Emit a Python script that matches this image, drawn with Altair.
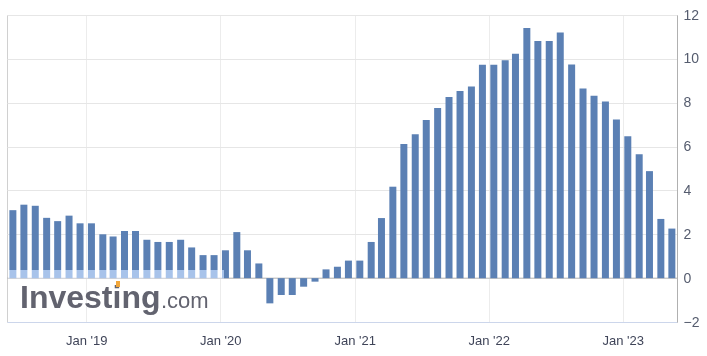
import altair as alt
import pandas as pd

# Monthly values, Jun 2018 .. May 2023
start_year, start_month = 2018, 6
values = [
    3.1, 3.35, 3.3, 2.75, 2.6, 2.85, 2.5,                              # 2018 Jun-Dec
    2.5, 2.0, 1.9, 2.15, 2.15, 1.75, 1.65, 1.65, 1.75, 1.4, 1.05, 1.05,  # 2019
    1.27, 2.1, 1.27, 0.67, -1.15, -0.77, -0.77, -0.39, -0.16, 0.4, 0.52, 0.8,  # 2020
    0.8, 1.65, 2.74, 4.17, 6.12, 6.56, 7.21, 7.76, 8.26, 8.53, 8.74, 9.73,   # 2021
    9.73, 9.94, 10.23, 11.41, 10.82, 10.82, 11.2, 9.74, 8.65, 8.32, 8.05, 7.23,  # 2022
    6.47, 5.65, 4.88, 2.7, 2.26,                                       # 2023 Jan-May
]
dates = []
y, m = start_year, start_month
for _ in values:
    dates.append(f"{y}-{m:02d}-15")
    m += 1
    if m > 12:
        m = 1
        y += 1

y_ticks = [-2, 0, 2, 4, 6, 8, 10, 12]
x_tick_years = [2019, 2020, 2021, 2022, 2023]

df = pd.DataFrame({"date": dates, "value": values})

x_enc = alt.X(
    "date:T",
    scale=alt.Scale(
        type="utc",
        padding=0,
        domain=[alt.DateTime(year=2018, month=5, date=30, utc=True),
                alt.DateTime(year=2023, month=5, date=29, utc=True)],
    ),
    axis=alt.Axis(
        title=None,
        values=[alt.DateTime(year=yr, month=1, date=1, utc=True) for yr in x_tick_years],
        labelExpr="utcFormat(datum.value, \"%b '%y\")",
        ticks=False,
        domainColor="#ccd6eb",
        grid=True,
        gridColor="#ececec",
        labelColor="#3f4458",
        labelFontSize=13,
        labelPadding=12,
        labelFont="Liberation Sans",
    ),
)
y_enc = alt.Y(
    "value:Q",
    scale=alt.Scale(domain=[-2, 12], nice=False, zero=False),
    axis=alt.Axis(
        title=None,
        orient="right",
        values=y_ticks,
        ticks=False,
        domainColor="#b0b0b0",
        grid=True,
        gridColor="#e6e6e6",
        labelColor="#555c6e",
        labelFontSize=14,
        labelPadding=6,
        labelFont="Liberation Sans",
    ),
)

bars = alt.Chart(df).mark_bar(color="#5b80b4", size=7).encode(x=x_enc, y=y_enc)

one = pd.DataFrame({"a": [0]})
zero_rule = alt.Chart(one).mark_rule(color="#b8b8b8", strokeWidth=1).encode(y=alt.datum(0))

# watermark: light band over bar bottoms
wm_rect = alt.Chart(one).mark_rect(color="#7887b8", blend="screen").encode(
    x=alt.value(1), x2=alt.value(217), y=alt.value(255), y2=alt.value(263.5)
)
wm_text = alt.Chart(one).mark_text(
    align="left", baseline="alphabetic", font="Liberation Sans",
    fontWeight="bold", fontSize=32, color="#62636f",
).encode(x=alt.value(13), y=alt.value(293), text=alt.value("Investing"))
wm_com = alt.Chart(one).mark_text(
    align="left", baseline="alphabetic", font="Liberation Sans",
    fontSize=22, color="#62636f",
).encode(x=alt.value(154), y=alt.value(293), text=alt.value(".com"))
wm_dot = alt.Chart(one).mark_rect(color="#f2a73b").encode(
    x=alt.value(109), x2=alt.value(113), y=alt.value(266), y2=alt.value(272)
)

chart = alt.layer(zero_rule, bars, wm_rect, wm_text, wm_com, wm_dot).properties(
    width=670,
    height=307,
    padding={"left": 7, "top": 15, "right": 30, "bottom": 34},
    autosize=alt.AutoSizeParams(type="none"),
    background="white",
).configure_view(stroke="#d0d0d0")

chart.save("out.html", embed_options={"renderer": "svg", "actions": False})
